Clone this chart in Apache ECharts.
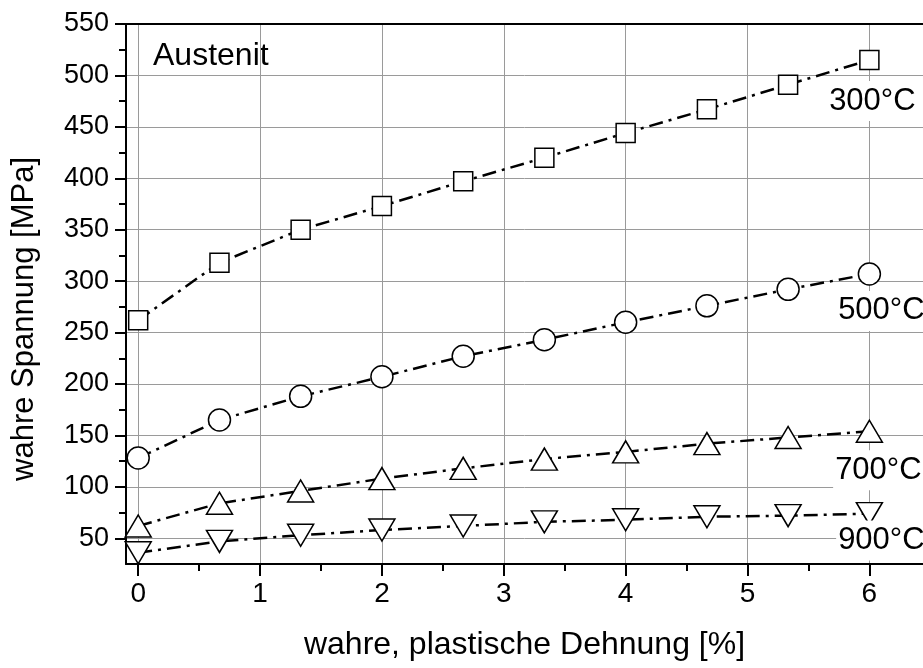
<!DOCTYPE html>
<html>
<head>
<meta charset="utf-8">
<style>
  html, body { margin: 0; padding: 0; background: #fff; }
  #chart { width: 923px; height: 668px; }
</style>
<script src="https://cdn.jsdelivr.net/npm/echarts@6/dist/echarts.min.js"></script>
</head>
<body>
<div id="chart"></div>
<script>
// true plastic strain [%]
const strain = [0, 0.667, 1.333, 2, 2.667, 3.333, 4, 4.667, 5.333, 6]
// true stress [MPa] per temperature
const stress300 = [262, 318, 350, 373, 397, 420, 444, 467, 491, 515]
const stress500 = [128, 165, 188, 207, 227, 243, 260, 276, 292, 307]
const stress700 = [62, 84, 96, 108, 118, 127, 134, 142, 148, 154]
const stress900 = [36, 47, 53, 58, 62, 66, 68, 71, 72, 74]

const xTicks = [0, 1, 2, 3, 4, 5, 6]
const xMinorTicks = [0.5, 1.5, 2.5, 3.5, 4.5, 5.5]
const yTicks = [50, 100, 150, 200, 250, 300, 350, 400, 450, 500, 550]
const yMinorTicks = [75, 125, 175, 225, 275, 325, 375, 425, 475, 525]

const FONT = '"Liberation Sans", Arial, sans-serif'

const chart = echarts.init(document.getElementById('chart'))

function curve(values, labelText, labelOffset) {
  return values.map((v, i) => {
    const item = { value: [strain[i], v] }
    if (i === values.length - 1) {
      item.label = {
        show: true,
        formatter: labelText,
        position: 'inside',
        offset: labelOffset,
        color: '#000',
        fontFamily: FONT,
        fontSize: 31,
        backgroundColor: '#fff',
        padding: [4, 2, 5, 2],
      }
    }
    return item
  })
}

const lineStyle = { color: '#000', width: 2.5, type: [14, 6, 3, 6] }
const markerStyle = { color: '#fff', borderColor: '#000', borderWidth: 1.5 }

// the plot box is cut off by the right edge of the picture, so no right border
const baseX = { type: 'value', min: -0.1, max: 6.44, gridIndex: 0 }
const baseY = { type: 'value', min: 25, max: 550, gridIndex: 0 }

chart.setOption({
  animation: false,
  backgroundColor: '#fff',
  grid: { left: 126, top: 24, right: 0, bottom: 104 },
  xAxis: [
    {
      ...baseX,
      position: 'bottom',
      name: 'wahre, plastische Dehnung [%]',
      nameLocation: 'middle',
      nameGap: 65,
      nameTextStyle: { color: '#000', fontFamily: FONT, fontSize: 32 },
      axisLine: { show: true, onZero: false, lineStyle: { color: '#000', width: 2 } },
      axisTick: { show: true, customValues: xTicks, length: 12, lineStyle: { color: '#000', width: 2 } },
      axisLabel: { customValues: xTicks, color: '#000', fontFamily: FONT, fontSize: 28, margin: 16 },
      splitLine: { show: true, lineStyle: { color: '#9a9a9a', width: 1 } },
    },
    {
      ...baseX,
      position: 'bottom',
      axisLine: { show: false, onZero: false },
      axisTick: { show: true, customValues: xMinorTicks, length: 7, lineStyle: { color: '#000', width: 2 } },
      axisLabel: { show: false },
      splitLine: { show: false },
    },
    {
      ...baseX,
      position: 'top',
      axisLine: { show: true, onZero: false, lineStyle: { color: '#000', width: 2 } },
      axisTick: { show: false },
      axisLabel: { show: false },
      splitLine: { show: false },
    },
  ],
  yAxis: [
    {
      ...baseY,
      position: 'left',
      name: 'wahre Spannung [MPa]',
      nameLocation: 'middle',
      nameGap: 86,
      nameTextStyle: { color: '#000', fontFamily: FONT, fontSize: 31, padding: [0, 50, 0, 0] },
      axisLine: { show: true, onZero: false, lineStyle: { color: '#000', width: 2 } },
      axisTick: { show: true, customValues: yTicks, length: 11, lineStyle: { color: '#000', width: 2 } },
      axisLabel: { customValues: yTicks, color: '#000', fontFamily: FONT, fontSize: 27, margin: 17 },
      splitLine: { show: true, lineStyle: { color: '#9a9a9a', width: 1 } },
    },
    {
      ...baseY,
      position: 'left',
      axisLine: { show: false, onZero: false },
      axisTick: { show: true, customValues: yMinorTicks, length: 7, lineStyle: { color: '#000', width: 2 } },
      axisLabel: { show: false },
      splitLine: { show: false },
    },
  ],
  graphic: [
    {
      type: 'text',
      left: 153,
      top: 40,
      style: { text: 'Austenit', fill: '#000', font: '32px ' + FONT },
    },
  ],
  series: [
    {
      name: '300°C', type: 'line', data: curve(stress300, '300°C', [3, 41]),
      symbol: 'rect', symbolSize: 19,
      lineStyle, itemStyle: markerStyle,
    },
    {
      name: '500°C', type: 'line', data: curve(stress500, '500°C', [12, 37]),
      symbol: 'circle', symbolSize: 22,
      lineStyle, itemStyle: markerStyle,
    },
    {
      name: '700°C', type: 'line', data: curve(stress700, '700°C', [9, 39]),
      symbol: 'triangle', symbolSize: [26, 22],
      lineStyle, itemStyle: markerStyle,
    },
    {
      name: '900°C', type: 'line', data: curve(stress900, '900°C', [12, 27]),
      symbol: 'triangle', symbolRotate: 180, symbolSize: [26, 22],
      lineStyle, itemStyle: markerStyle,
    },
  ],
})
</script>
</body>
</html>
